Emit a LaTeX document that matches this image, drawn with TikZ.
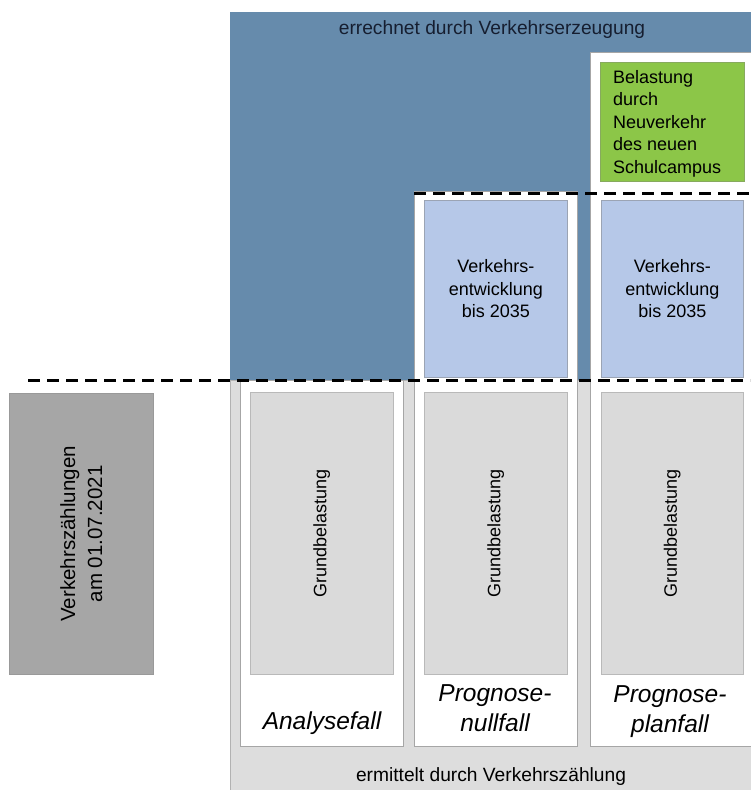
\documentclass[tikz,border=0pt]{standalone}
\usepackage{fontspec}
\setmainfont{Liberation Sans}
\definecolor{blueA}{RGB}{102,139,172}
\definecolor{lblue}{RGB}{182,200,232}
\definecolor{lgreen}{RGB}{140,198,72}
\definecolor{dgrey}{RGB}{166,166,166}
\definecolor{ggrey}{RGB}{218,218,218}
\definecolor{bgrey}{RGB}{221,221,221}
\definecolor{navy}{RGB}{22,30,48}
\begin{document}
\begin{tikzpicture}[x=1pt,y=-1pt,
  every node/.style={inner sep=0pt, text=black},
  area/.style={anchor=north west, draw=none},
  colbox/.style={anchor=north west, draw=gray!70, fill=white, line width=0.6pt},
  gbox/.style={anchor=north west, draw=gray!55, fill=ggrey, line width=0.6pt},
  bbox/.style={anchor=north west, draw=gray!50!lblue, fill=lblue, line width=0.6pt},
  txt/.style={font=\fontsize{18}{22.5}\selectfont, align=center},
  casetxt/.style={font=\fontsize{24.5}{30}\selectfont\itshape, align=center},
  captxt/.style={font=\fontsize{19.2}{22}\selectfont},
  dashline/.style={line width=3pt, dash pattern=on 12pt off 7pt}
]
\useasboundingbox (0,0) rectangle (750,790);

% background areas
\node[area, fill=blueA, minimum width=522, minimum height=368] (top) at (230,12) {};
\node[area, fill=bgrey, draw=gray!60, line width=0.6pt, minimum width=525, minimum height=415] (bottom) at (230,380) {};

% columns
\node[colbox, minimum width=163, minimum height=366] (colA) at (240,380) {};
\node[colbox, minimum width=163, minimum height=555] (colN) at (414,191) {};
\node[colbox, minimum width=165, minimum height=694] (colP) at (590,52) {};

% green box
\node[anchor=north west, fill=lgreen, draw=gray!40!lgreen, line width=0.6pt, minimum width=144, minimum height=119] (green) at (600,62) {};
\node[anchor=north west, font=\fontsize{18}{22.5}\selectfont, align=left] (greentxt) at (613,70)
  {Belastung\\durch\\Neuverkehr\\des neuen\\Schulcampus};

% blue boxes
\node[bbox, minimum width=143, minimum height=177] (bN) at (424,200) {};
\node[bbox, minimum width=142, minimum height=177] (bP) at (601,200) {};
\node[txt] (bNt) at (bN.center) {Verkehrs-\\entwicklung\\bis 2035};
\node[txt] (bPt) at (bP.center) {Verkehrs-\\entwicklung\\bis 2035};

% Grundbelastung boxes
\node[gbox, minimum width=143, minimum height=282] (gA) at (250,392) {};
\node[gbox, minimum width=143, minimum height=282] (gN) at (424,392) {};
\node[gbox, minimum width=142, minimum height=282] (gP) at (601,392) {};
\node[txt, rotate=90] (gAt) at (gA.center) {Grundbelastung};
\node[txt, rotate=90] (gNt) at (gN.center) {Grundbelastung};
\node[txt, rotate=90] (gPt) at (gP.center) {Grundbelastung};

% left grey box
\node[anchor=north west, fill=dgrey, draw=gray!80, line width=0.6pt, minimum width=144, minimum height=281] (zaehl) at (9,393) {};
\node[font=\fontsize{20.5}{27}\selectfont, align=center, rotate=90] (zaehlt) at (zaehl.center) {Verkehrszählungen\\am 01.07.2021};

% case labels
\node[casetxt] (lA) at (322,723) {Analysefall};
\node[casetxt] (lN) at (495,708) {Prognose-\\nullfall};
\node[casetxt] (lP) at (670,711.5) {Prognose-\\planfall};

% area captions
\node[captxt, text=navy] (topt) at (492,30) {errechnet durch Verkehrserzeugung};
\node[captxt] (bott) at (491,777) {ermittelt durch Verkehrszählung};

% dashed lines
\coordinate (d1a) at (414,193);
\coordinate (d1b) at (750,193);
\coordinate (d2a) at (28,380);
\coordinate (d2b) at (750,380);
\draw[dashline] (d1a) -- (d1b);
\draw[dashline] (d2a) -- (d2b);
\end{tikzpicture}
\end{document}
